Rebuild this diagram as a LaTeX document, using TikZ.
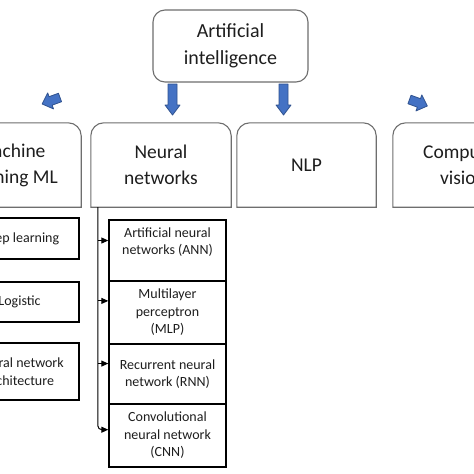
\documentclass[tikz,border=0pt]{standalone}
\usepackage{fontspec}
\setmainfont{Carlito}
\usetikzlibrary{calc,arrows.meta}
\definecolor{arrowfill}{HTML}{4472C4}
\definecolor{arrowedge}{HTML}{2F528F}
\definecolor{boxedge}{HTML}{6E6E6E}
\definecolor{txt}{HTML}{1E1E1E}
\tikzset{
  aibox/.style={draw=boxedge, line width=1.1pt, rounded corners=12pt, minimum width=155pt, minimum height=72pt, inner sep=0pt, align=center, font=\fontsize{20}{27}\selectfont, text=txt},
  topbox/.style={minimum width=140pt, minimum height=84pt, inner sep=0pt, align=center, font=\fontsize{19.5}{26}\selectfont, text=txt},
  roundtop/.style={draw=boxedge, line width=1.1pt},
  subbox/.style={draw=black, line width=1.4pt, minimum width=117pt, inner sep=0pt, align=center, font=\fontsize{14}{17.5}\selectfont, text=txt},
  leftbox/.style={subbox, minimum width=119pt},
  blockstyle/.style={fill=arrowfill, draw=arrowedge, line width=0.8pt, line join=round},
  longarrow/.pic={\draw[blockstyle] (0,-4.5) -- (21,-4.5) -- (21,-7.5) -- (31,0) -- (21,7.5) -- (21,4.5) -- (0,4.5) -- cycle;},
  shortarrow/.pic={\draw[blockstyle] (0,-4.5) -- (10,-4.5) -- (10,-8.5) -- (19,0) -- (10,8.5) -- (10,4.5) -- (0,4.5) -- cycle;},
  branch/.style={-{Triangle[length=7pt,width=6pt]}, line width=1pt, draw=black},
}
\begin{document}
\begin{tikzpicture}[x=1pt,y=-1pt]
\useasboundingbox (0,0) rectangle (474,474);
\clip (0,0) rectangle (474,474);
\fill[white] (0,0) rectangle (474,474);

% top
\node[aibox] (ai) at (230.5,46) {Artificial\\intelligence};

% block arrows
\pic[rotate=200] at (60,97.5) {shortarrow};
\pic[rotate=-90] at (172.5,84) {longarrow};
\pic[rotate=-90] at (283.5,84) {longarrow};
\pic[rotate=-20] at (409.5,99.5) {shortarrow};

% second row
\node[topbox] (ml) at (11,165) {Machine\\learning ML};
\node[topbox] (nn) at (161,165) {Neural\\networks};
\node[topbox, minimum width=139pt] (nlp) at (306.5,165) {NLP};
\node[topbox] (cv) at (463,165) {Computer\\vision};
\foreach \n in {ml,nn,nlp,cv}{
  \draw[roundtop] (\n.south west) -- ([yshift=-13pt]\n.north west)
    arc[start angle=180, end angle=90, radius=13pt]
    -- ([xshift=-13pt]\n.north east)
    arc[start angle=90, end angle=0, radius=13pt]
    -- (\n.south east) -- cycle;
}

% left column
\node[leftbox, minimum height=41pt] (dl) at (19.5,238.5) {Deep learning};
\node[leftbox, minimum height=40pt] (lg) at (19.5,302) {Logistic};
\node[leftbox, minimum height=57pt] (na) at (19.5,371.5) {Neural network\\architecture};

% neural network column
\node[subbox, minimum height=61pt] (ann) at (167.5,250.5) {Artificial neural\\networks (ANN)\\[-4pt]\strut};
\node[subbox, minimum height=63pt] (mlp) at (167.5,312.5) {Multilayer\\perceptron\\(MLP)};
\node[subbox, minimum height=60pt] (rnn) at (167.5,374) {Recurrent neural\\network (RNN)};
\node[subbox, minimum height=63pt] (cnn) at (167.5,435.5) {Convolutional\\neural network\\(CNN)};

% trunk and branches
\coordinate (t0) at ([xshift=7pt]nn.south west);
\coordinate (annin) at ($(ann.north west)!0.34!(ann.south west)$);
\coordinate (mlpin) at ($(mlp.north west)!0.32!(mlp.south west)$);
\coordinate (rnnin) at ($(rnn.north west)!0.33!(rnn.south west)$);
\coordinate (cnnin) at ($(cnn.north west)!0.41!(cnn.south west)$);
\draw[branch, rounded corners=4pt] (t0) |- (cnnin);
\draw[branch] (t0 |- annin) -- (annin);
\draw[branch] (t0 |- mlpin) -- (mlpin);
\draw[branch] (t0 |- rnnin) -- (rnnin);
\end{tikzpicture}
\end{document}
